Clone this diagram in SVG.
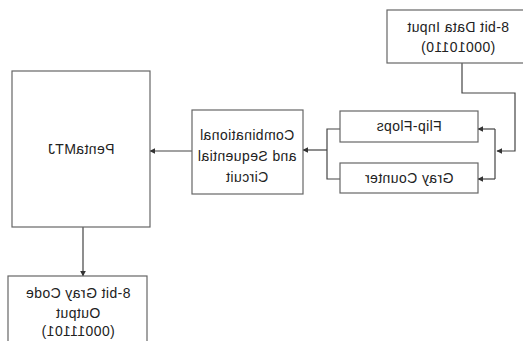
<svg xmlns="http://www.w3.org/2000/svg" width="523" height="341" viewBox="0 0 523 341">
<defs>
<marker id="ah" viewBox="0 0 10 10" refX="9" refY="5" markerWidth="6" markerHeight="6" orient="auto" markerUnits="userSpaceOnUse">
<path d="M0,0 L10,5 L0,10 z" fill="#333"/>
</marker>
<style>
.box{fill:#fff;stroke:#666;stroke-width:1.2}
.t{font-family:"Liberation Sans",Arial,sans-serif;font-size:14px;letter-spacing:0.4px;fill:#222;text-anchor:middle}
.c{fill:none;stroke:#444;stroke-width:1.2}
</style>
</defs>
<rect width="523" height="341" fill="#fff"/>
<g id="connectors">
<path class="c" d="M462,63 V93 H515 V151 H497" marker-end="url(#ah)"/>
<path class="c" d="M495,129 V179"/>
<path class="c" d="M495,129 H478" marker-end="url(#ah)"/>
<path class="c" d="M495,179 H478" marker-end="url(#ah)"/>
<path class="c" d="M340,129 H327 V179 H340"/>
<path class="c" d="M327,150 H303" marker-end="url(#ah)"/>
<path class="c" d="M192,151 H150" marker-end="url(#ah)"/>
<path class="c" d="M83,227 V276" marker-end="url(#ah)"/>
</g>
<g id="data-input">
<rect class="box" x="387" y="10" width="150" height="53"/>
<g transform="translate(458,0) scale(-1,1)">
<text class="t" x="0" y="32">8-bit Data Input</text>
<text class="t" x="0" y="52">(00010110)</text>
</g>
</g>
<g id="flip-flops">
<rect class="box" x="340" y="111" width="138" height="31"/>
<text class="t" transform="translate(409,0) scale(-1,1)" x="0" y="131">Flip-Flops</text>
</g>
<g id="gray-counter">
<rect class="box" x="340" y="163" width="138" height="30"/>
<text class="t" transform="translate(409,0) scale(-1,1)" x="0" y="183">Gray Counter</text>
</g>
<g id="comb-seq">
<rect class="box" x="192" y="110" width="111" height="84"/>
<g transform="translate(247,0) scale(-1,1)">
<text class="t" x="0" y="140">Combinational</text>
<text class="t" x="0" y="161">and Sequential</text>
<text class="t" x="0" y="182">Circuit</text>
</g>
</g>
<g id="pentamtj">
<rect class="box" x="12" y="71" width="138" height="156"/>
<text class="t" transform="translate(81,0) scale(-1,1)" x="0" y="154">PentaMTJ</text>
</g>
<g id="gray-output">
<rect class="box" x="8" y="276" width="139" height="80"/>
<g transform="translate(78,0) scale(-1,1)">
<text class="t" x="0" y="298">8-bit Gray Code</text>
<text class="t" x="0" y="318">Output</text>
<text class="t" x="0" y="336">(00011101)</text>
</g>
</g>
</svg>
